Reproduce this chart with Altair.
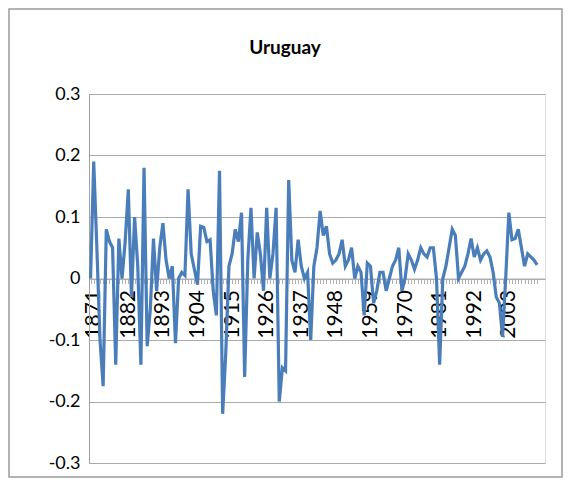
import altair as alt
import pandas as pd

first_year = 1870
values = [
    0.00, 0.19, 0.05, -0.10, -0.175, 0.08, 0.06, 0.05, -0.14, 0.065,
    0.00, 0.06, 0.145, -0.03, 0.10, 0.02, -0.14, 0.18, -0.11, -0.05,
    0.065, -0.02, 0.05, 0.09, 0.03, 0.00, 0.02, -0.105, 0.00, 0.01,
    0.005, 0.145, 0.04, 0.015, -0.01, 0.085, 0.083, 0.06, 0.063, -0.02,
    -0.06, 0.175, -0.22, -0.12, 0.02, 0.04, 0.08, 0.06, 0.107, -0.16,
    0.03, 0.115, 0.00, 0.075, 0.04, -0.02, 0.115, 0.00, 0.04, 0.115,
    -0.20, -0.145, -0.15, 0.16, 0.03, 0.01, 0.063, 0.02, 0.00, 0.01,
    -0.10, 0.02, 0.05, 0.11, 0.07, 0.085, 0.04, 0.025, 0.03, 0.04,
    0.063, 0.02, 0.03, 0.05, 0.00, 0.02, 0.01, -0.06, 0.025, 0.02,
    -0.04, -0.02, 0.01, 0.01, -0.02, 0.00, 0.02, 0.03, 0.05, -0.02,
    0.00, 0.04, 0.03, 0.015, 0.03, 0.05, 0.04, 0.035, 0.05, 0.05,
    0.00, -0.14, 0.00, 0.02, 0.05, 0.08, 0.07, 0.00, 0.01, 0.02,
    0.04, 0.065, 0.035, 0.05, 0.03, 0.04, 0.045, 0.035, 0.01, -0.03,
    -0.04, -0.095, 0.00, 0.107, 0.063, 0.065, 0.08, 0.05, 0.02, 0.04,
    0.035, 0.03, 0.022,
]
years = [first_year + i for i in range(len(values))]
label_years = [1871, 1882, 1893, 1904, 1915, 1926, 1937, 1948, 1959, 1970, 1981, 1992, 2003]
y_ticks = [-0.3, -0.2, -0.1, 0, 0.1, 0.2, 0.3]

df = pd.DataFrame({"year": years, "value": values})

W, H = 456, 369
FONT = "Lato"

label_list = ",".join(str(y) for y in label_years)

line = alt.Chart(df).mark_line(color="#4A7EBB", strokeWidth=3.2).encode(
    x=alt.X(
        "year:Q",
        scale=alt.Scale(domain=[1869.5, 2014.5], nice=False, zero=False),
        axis=alt.Axis(
            values=years,
            format="d",
            labelExpr=f"indexof([{label_list}], datum.value) >= 0 ? datum.label : ''",
            orient="bottom",
            offset=-H / 2,
            title=None,
            grid=False,
            domainColor="#b0b0b0",
            tickColor="#b0b0b0",
            tickSize=5,
            labelAngle=270,
            labelAlign="right",
            labelBaseline="middle",
            labelPadding=6,
            labelFont=FONT,
            labelFontSize=21,
            labelColor="#000000",
            labelOverlap=False,
            labelFlush=False,
            labelBound=False,
        ),
    ),
    y=alt.Y(
        "value:Q",
        scale=alt.Scale(domain=[-0.3, 0.3], nice=False, zero=False),
        axis=alt.Axis(
            values=y_ticks,
            labelExpr="datum.value == 0 ? '0' : (datum.value < 0 ? '-' + format(-datum.value, '.1f') : format(datum.value, '.1f'))",
            title=None,
            grid=True,
            gridColor="#ababab",
            domainColor="#a0a0a0",
            tickSize=0,
            labelPadding=9,
            labelFont=FONT,
            labelFontSize=18,
            labelColor="#000000",
        ),
    ),
)

frame = alt.Chart(pd.DataFrame({"f": [0]})).mark_rect(
    fillOpacity=0, stroke="#9a9a9a", strokeWidth=1.5
).encode(
    x=alt.value(-80), x2=alt.value(473), y=alt.value(-85), y2=alt.value(383)
)

chart = alt.layer(frame, line).properties(
    width=W,
    height=H,
    autosize=alt.AutoSizeParams(type="none"),
    padding={"left": 81, "top": 86, "right": 18, "bottom": 15},
    title=alt.Title(
        "Uruguay", font=FONT, fontSize=19, fontWeight="bold", color="#000000",
        dx=-32, offset=-50,
    ),
).configure_view(stroke=None).configure(background="white")

chart.save("out.html", embed_options={"renderer": "svg", "actions": False})
